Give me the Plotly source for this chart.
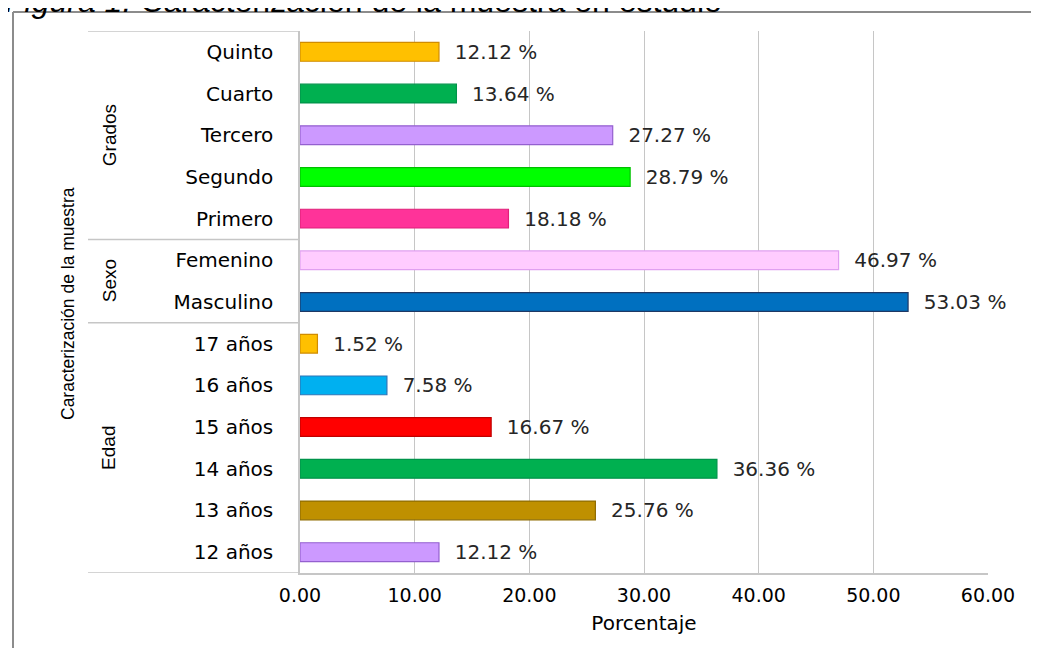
import plotly.graph_objects as go

# ---- data ----
edad_cats = ["12 años", "13 años", "14 años", "15 años", "16 años", "17 años"]
edad_pct = [12.12, 25.76, 36.36, 16.67, 7.58, 1.52]
sexo_cats = ["Masculino", "Femenino"]
sexo_pct = [53.03, 46.97]
grados_cats = ["Primero", "Segundo", "Tercero", "Cuarto", "Quinto"]
grados_pct = [18.18, 28.79, 27.27, 13.64, 12.12]
group_names = ["Edad", "Sexo", "Grados"]
x_ticks = [0, 10, 20, 30, 40, 50, 60]

# ---- styles ----
edad_fill = ["#CC99FF", "#BF9000", "#00B050", "#FF0000", "#00B0F0", "#FFC000"]
edad_edge = ["#9460CF", "#8F6C00", "#00934A", "#C00000", "#2E75B6", "#D08C00"]
sexo_fill = ["#0070C0", "#FFCCFF"]
sexo_edge = ["#1F3864", "#E0A0F0"]
grados_fill = ["#FF3399", "#00FF00", "#CC99FF", "#00B050", "#FFC000"]
grados_edge = ["#E0207A", "#00C000", "#9460CF", "#00934A", "#D08C00"]

cats = edad_cats + sexo_cats + grados_cats
vals = edad_pct + sexo_pct + grados_pct
fills = edad_fill + sexo_fill + grados_fill
edges = edad_edge + sexo_edge + grados_edge
groups = [edad_cats, sexo_cats, grados_cats]

W, H = 1039, 648
OFF = 8  # page body margin
L, R, T, B = 300, 988, 31, 573   # plot area in window pixels
pw, ph = R - L, B - T


def px_x(p):
    return (p - L) / pw


def px_y(p):
    return (B - p) / ph


fig = go.Figure(go.Bar(
    x=vals, y=cats, orientation="h",
    width=0.45,
    marker=dict(color=fills, line=dict(color=edges, width=1.2)),
    texttemplate="\u00a0\u00a0%{x:.2f} %",
    textposition="outside",
    constraintext="none",
    cliponaxis=False,
    textfont=dict(family="DejaVu Sans", size=20, color="#262626"),
    hoverinfo="skip",
))

shapes = []
grid_col = "#C6C6C6"
bounds = [-0.5]
for g in groups:
    bounds.append(bounds[-1] + len(g))
for b in bounds:
    shapes.append(dict(type="line", xref="paper", yref="y",
                       x0=px_x(88), x1=0, y0=b, y1=b,
                       line=dict(color=grid_col, width=1.5)))
frame_col = "#8C8C8C"
shapes.append(dict(type="line", xref="paper", yref="paper",
                   x0=px_x(13), x1=px_x(13), y0=px_y(12), y1=px_y(670),
                   line=dict(color=frame_col, width=2)))
shapes.append(dict(type="line", xref="paper", yref="paper",
                   x0=px_x(13), x1=px_x(1060), y0=px_y(12), y1=px_y(12),
                   line=dict(color=frame_col, width=2)))

annotations = []
rot_font = "Liberation Sans Narrow, Arial Narrow, Liberation Sans"
start = 0
for name, g in zip(group_names, groups):
    center = start + (len(g) - 1) / 2
    annotations.append(dict(text=name, xref="paper", yref="y",
                            x=px_x(109), y=center, textangle=-90,
                            xanchor="center", yanchor="middle",
                            showarrow=False,
                            font=dict(family=rot_font, size=19, color="#000000")))
    start += len(g)

annotations.append(dict(text="Caracterización de la muestra", xref="paper", yref="paper",
                        x=px_x(68), y=px_y(304), textangle=-90, showarrow=False,
                        xanchor="center", yanchor="middle",
                        font=dict(family=rot_font, size=17.5, color="#000000")))
annotations.append(dict(text="<i>Figura 1.</i> Caracterización de la muestra en estudio",
                        xref="paper", yref="paper", x=px_x(3), y=px_y(21),
                        xanchor="left", yanchor="bottom", showarrow=False,
                        font=dict(family="Liberation Sans", size=32, color="#000000")))

fig.update_layout(
    width=W, height=H,
    margin=dict(l=L - OFF, r=W - (R - OFF), t=T - OFF, b=H - (B - OFF)),
    paper_bgcolor="white", plot_bgcolor="white",
    showlegend=False,
    shapes=shapes,
    annotations=annotations,
)
fig.update_xaxes(
    range=[0, 60], tickvals=x_ticks, tickformat=".2f",
    showgrid=True, gridcolor=grid_col, gridwidth=1.2,
    showline=True, linecolor=grid_col, linewidth=1.5,
    zeroline=False, ticks="",
    ticklabelstandoff=4,
    tickfont=dict(family="DejaVu Sans", size=19, color="#000000"),
    title=dict(text="Porcentaje", standoff=11,
               font=dict(family="DejaVu Sans", size=20, color="#000000")),
)
fig.update_yaxes(
    type="category", categoryorder="array", categoryarray=cats,
    range=[-0.5, len(cats) - 0.5],
    showgrid=False, showline=True, linecolor=grid_col, linewidth=1.5,
    zeroline=False, ticks="",
    ticklabelstandoff=21,
    tickfont=dict(family="DejaVu Sans", size=20, color="#000000"),
)

fig.write_html("out.html")
